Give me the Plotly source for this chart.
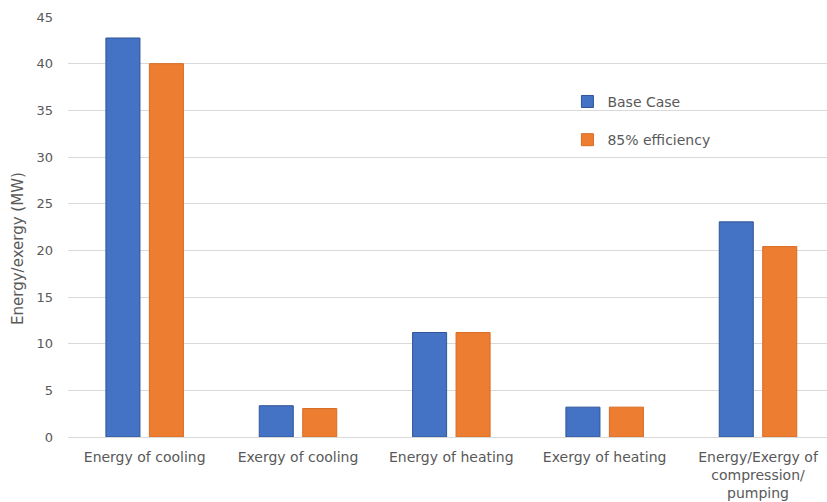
import plotly.graph_objects as go

categories = [
    "Energy of cooling",
    "Exergy of cooling",
    "Energy of heating",
    "Exergy of heating",
    "Energy/Exergy of<br>compression/<br>pumping",
]
base_case = [42.75, 3.35, 11.2, 3.2, 23.05]
efficiency_85 = [40.0, 3.05, 11.2, 3.2, 20.4]
y_title = "Energy/exergy (MW)"

TEXT = "#595959"
FONT = "'DejaVu Sans', sans-serif"

fig = go.Figure()
fig.add_trace(go.Bar(
    name="Base Case", x=categories, y=base_case,
    marker=dict(color="#4472C4", line=dict(color="#2F5597", width=1)),
    legendgroup="a",
))
fig.add_trace(go.Bar(
    name="85% efficiency", x=categories, y=efficiency_85,
    marker=dict(color="#ED7D31", line=dict(color="#D86C24", width=1)),
    legendgroup="b",
))

# vertical axis title placed as a rotated annotation
fig.add_annotation(
    text=y_title, textangle=-90,
    xref="paper", yref="paper", x=-0.066, y=0.45,
    xanchor="center", yanchor="middle", showarrow=False,
    font=dict(family=FONT, size=15, color=TEXT),
)

fig.update_layout(
    width=827, height=502,
    margin=dict(l=68, r=0, t=17, b=65),
    paper_bgcolor="white", plot_bgcolor="white",
    font=dict(family=FONT, size=13, color=TEXT),
    barmode="group", bargap=0.433, bargroupgap=0.217,
    showlegend=True,
    legend=dict(
        x=0.658, y=0.836, xanchor="left", yanchor="top",
        traceorder="grouped", tracegroupgap=17,
        font=dict(family=FONT, size=14, color=TEXT),
        itemwidth=30, bgcolor="rgba(0,0,0,0)",
    ),
    xaxis=dict(
        type="category", range=[-0.5, 4.45],
        showline=True, linecolor="#d9d9d9", linewidth=1,
        ticks="", showgrid=False, ticklabelstandoff=7,
        tickfont=dict(family=FONT, size=14, color=TEXT),
    ),
    yaxis=dict(
        range=[0, 45], dtick=5,
        showgrid=True, gridcolor="#d9d9d9", gridwidth=1,
        zeroline=False, showline=False, ticks="",
        ticklen=0, ticklabelstandoff=14,
        tickfont=dict(family=FONT, size=13, color=TEXT),
    ),
)

fig.write_html("out.html")
